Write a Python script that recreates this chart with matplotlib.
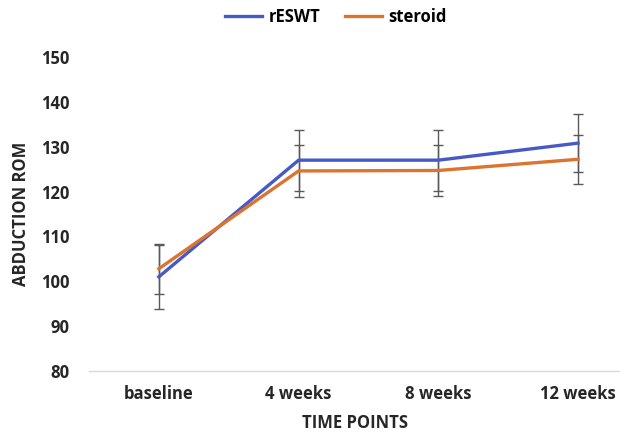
import numpy as np
import matplotlib.pyplot as plt

plt.rcParams["font.family"] = ["Open Sans", "DejaVu Sans"]
plt.rcParams["font.weight"] = "bold"

time_points = ["baseline", "4 weeks", "8 weeks", "12 weeks"]
reswt = [101.0, 127.0, 127.0, 130.8]
reswt_err = [7.2, 6.8, 6.8, 6.5]
steroid = [102.8, 124.6, 124.7, 127.2]
steroid_err = [5.6, 5.7, 5.6, 5.5]

blue = "#4759C6"
orange = "#DC7430"
gray = "#595959"

fig = plt.figure(figsize=(6.2, 4.38), dpi=100)
ax = fig.add_axes([89 / 620, 67 / 438, 1 - 89 / 620, 314 / 438])

x = np.arange(len(time_points))
for vals, errs in [(reswt, reswt_err), (steroid, steroid_err)]:
    ax.errorbar(x, vals, yerr=errs, fmt="none", ecolor=gray, elinewidth=1,
                capsize=3.5, capthick=1, zorder=2)
ax.plot(x, reswt, color=blue, lw=2.4, label="rESWT", zorder=3)
ax.plot(x, steroid, color=orange, lw=2.4, label="steroid", zorder=3)

ax.set_xlim(-0.5, 3.3)
ax.set_ylim(80, 150)
ax.set_yticks(range(80, 151, 10))
ax.set_xticks(x)
ax.set_xticklabels(time_points)
ax.tick_params(length=0, labelsize=12, pad=10, colors="#262626")
ax.tick_params(axis="y", pad=14)

for side in ["top", "right", "left"]:
    ax.spines[side].set_visible(False)
ax.spines["bottom"].set_color("#D9D9D9")
ax.spines["bottom"].set_linewidth(1)

ax.set_xlabel("TIME POINTS", fontsize=12, fontweight="bold", color="#262626", labelpad=8)
ax.set_ylabel("ABDUCTION ROM", fontsize=12, fontweight="bold", color="#262626", labelpad=8)

fig.legend(loc="center", bbox_to_anchor=(336 / 620, 1 - 17 / 438), ncol=2, frameon=False,
           fontsize=12, handlelength=2.2, columnspacing=1.5, handletextpad=0.4)

fig.savefig("out.png", dpi=100)
